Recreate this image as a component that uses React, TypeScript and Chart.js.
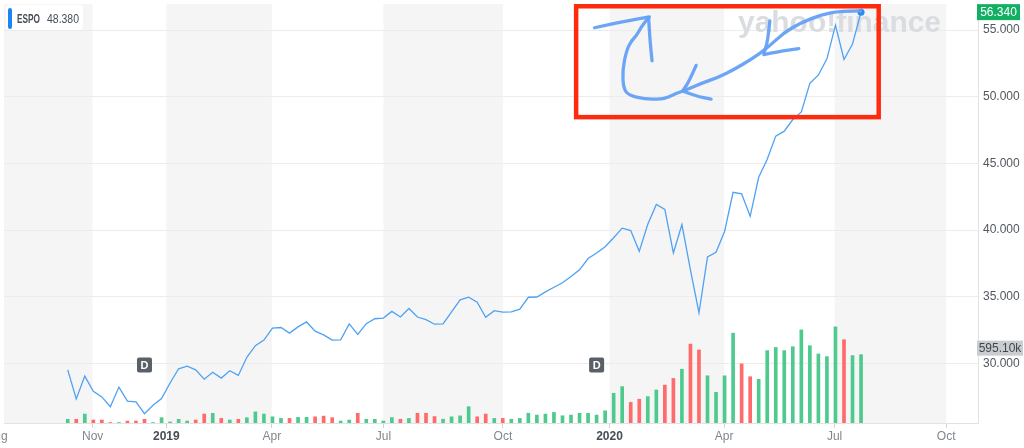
import React, { useEffect, useRef } from "react";
import { Chart, registerables } from "chart.js";

Chart.register(...registerables);

// ---------- data ----------
const weeks = [
  "2018-10-12","2018-10-19","2018-10-26","2018-11-02","2018-11-09","2018-11-16","2018-11-23","2018-11-30","2018-12-07","2018-12-14",
  "2018-12-21","2018-12-28","2019-01-04","2019-01-11","2019-01-18","2019-01-25","2019-02-01","2019-02-08","2019-02-15","2019-02-22",
  "2019-03-01","2019-03-08","2019-03-15","2019-03-22","2019-03-29","2019-04-05","2019-04-12","2019-04-19","2019-04-26","2019-05-03",
  "2019-05-10","2019-05-17","2019-05-24","2019-05-31","2019-06-07","2019-06-14","2019-06-21","2019-06-28","2019-07-05","2019-07-12",
  "2019-07-19","2019-07-26","2019-08-02","2019-08-09","2019-08-16","2019-08-23","2019-08-30","2019-09-06","2019-09-13","2019-09-20",
  "2019-09-27","2019-10-04","2019-10-11","2019-10-18","2019-10-25","2019-11-01","2019-11-08","2019-11-15","2019-11-22","2019-11-29",
  "2019-12-06","2019-12-13","2019-12-20","2019-12-27","2020-01-03","2020-01-10","2020-01-17","2020-01-24","2020-01-31","2020-02-07",
  "2020-02-14","2020-02-21","2020-02-28","2020-03-06","2020-03-13","2020-03-20","2020-03-27","2020-04-03","2020-04-10","2020-04-17",
  "2020-04-24","2020-05-01","2020-05-08","2020-05-15","2020-05-22","2020-05-29","2020-06-05","2020-06-12","2020-06-19","2020-06-26",
  "2020-07-03","2020-07-10","2020-07-17","2020-07-24",
];

const closes = [
  29.53, 27.35, 29.06, 27.92, 27.5, 26.76, 28.24, 27.18, 27.13, 26.24,
  26.88, 27.38, 28.54, 29.61, 29.8, 29.53, 28.83, 29.35, 28.91, 29.46,
  29.11, 30.47, 31.34, 31.76, 32.65, 32.7, 32.28, 32.75, 33.12, 32.43,
  32.15, 31.76, 31.78, 32.97, 32.18, 32.99, 33.36, 33.41, 33.91, 33.49,
  34.13, 33.49, 33.29, 32.95, 32.97, 33.88, 34.77, 34.97, 34.6, 33.47,
  33.96, 33.86, 33.88, 34.08, 34.97, 34.99, 35.37, 35.72, 36.06, 36.53,
  37.03, 37.87, 38.29, 38.76, 39.43, 40.15, 39.97, 38.41, 40.44, 41.93,
  41.56, 38.29, 40.42, 37.03, 33.81, 38.0, 38.34, 39.9, 42.84, 42.72,
  41.04, 43.96, 45.32, 47.05, 47.42, 48.29, 48.86, 51.01, 51.63, 52.84,
  55.37, 52.79, 53.95, 56.34,
];

// weekly volume, thousands of shares
const volumesK = [
  32, 32, 78, 26, 26, 4, 4, 17, 17, 32,
  4, 46, 9, 32, 17, 26, 78, 84, 40, 26,
  32, 46, 97, 78, 54, 40, 40, 49, 49, 54,
  60, 46, 17, 26, 84, 32, 32, 17, 47, 33,
  40, 85, 85, 56, 33, 54, 62, 142, 54, 78,
  40, 40, 33, 40, 85, 69, 78, 92, 63, 69,
  84, 84, 69, 106, 259, 317, 179, 207, 230, 287,
  330, 388, 468, 687, 636, 411, 267, 411, 782, 515,
  403, 380, 630, 658, 630, 664, 811, 673, 601, 578,
  837, 725, 587, 595.1,
];

const priceTicks = [30, 35, 40, 45, 50, 55];
// time-axis tick positions, in week-index units
const timeTickPos = [-8.29, 2.92, 11.56, 23.93, 37.01, 51.02, 63.51, 76.94, 89.9, 102.98];
const timeTickLabels = ["Aug", "Nov", "2019", "Apr", "Jul", "Oct", "2020", "Apr", "Jul", "Oct"];
const dividendDates = ["2018-12-14", "2019-12-20"];
const legendSymbol = "ESPO";
const legendValue = "48.380";

// hand-drawn annotation, in (week index, price) units
const annotationBox = [59.6, 56.78, 95.07, 48.47];
const annotationStrokes: number[][][] = [
  [
    [92.94, 56.43], [90.6, 56.43], [88.27, 56.13], [85.93, 55.54], [83.95, 54.8], [82.08, 53.68],
    [80.09, 52.79], [78.11, 52.04], [76.24, 51.45], [74.26, 51.0], [72.74, 50.56], [71.34, 50.26],
    [70.4, 49.97], [69.59, 49.82], [67.6, 49.82], [65.73, 50.12], [65.15, 50.64], [65.03, 51.97],
    [65.5, 53.46], [66.08, 54.2], [66.67, 54.57], [67.25, 55.24], [68.07, 55.91],
  ],
  [[61.76, 55.17], [64.92, 55.61], [68.18, 55.98]],
  [[68.1, 55.91], [68.22, 54.48], [68.5, 52.69]],
  [[73.67, 52.35], [72.85, 51.16], [72.15, 50.49]],
  [[72.15, 50.41], [73.67, 50.04], [75.42, 49.82]],
  [[82.31, 55.69], [82.08, 54.2], [81.61, 53.24]],
  [[81.61, 53.16], [83.25, 53.38], [85.7, 53.61]],
];

// ---------- styles ----------
const FONT = '"Liberation Sans", Arial, sans-serif';
const LINE_BLUE = "#4ea2f3";
const UP = "#4fca8e";
const DOWN = "#ff6b6b";

const barColors = closes.map((v, i) => (i === 0 || v >= closes[i - 1] ? UP : DOWN));

function roundRect(ctx: CanvasRenderingContext2D, x: number, y: number, w: number, h: number, r: number) {
  ctx.beginPath();
  ctx.moveTo(x + r, y);
  ctx.lineTo(x + w - r, y);
  ctx.quadraticCurveTo(x + w, y, x + w, y + r);
  ctx.lineTo(x + w, y + h - r);
  ctx.quadraticCurveTo(x + w, y + h, x + w - r, y + h);
  ctx.lineTo(x + r, y + h);
  ctx.quadraticCurveTo(x, y + h, x, y + h - r);
  ctx.lineTo(x, y + r);
  ctx.quadraticCurveTo(x, y, x + r, y);
  ctx.closePath();
}

const decorPlugin = {
  id: "decor",
  beforeDraw(chart: any) {
    const { ctx, chartArea: a, scales } = chart;
    ctx.save();
    ctx.fillStyle = "#ffffff";
    ctx.fillRect(0, 0, chart.width, chart.height);
    ctx.fillStyle = "#f5f5f5";
    for (let k = 0; k + 1 < timeTickPos.length; k += 2) {
      const x0 = Math.max(a.left, scales.x.getPixelForValue(timeTickPos[k]));
      const x1 = Math.min(a.right, scales.x.getPixelForValue(timeTickPos[k + 1]));
      if (x1 > x0) ctx.fillRect(x0, a.top, x1 - x0, a.bottom - a.top);
    }
    ctx.restore();
  },
  beforeDatasetsDraw(chart: any) {
    const { ctx } = chart;
    ctx.save();
    ctx.fillStyle = "#d9dce1";
    ctx.font = `bold 30px ${FONT}`;
    ctx.textBaseline = "alphabetic";
    ctx.fillText("yahoo!finance", 738, 32, 203);
    ctx.restore();
  },
  afterDatasetsDraw(chart: any) {
    const { ctx, scales } = chart;
    ctx.save();
    dividendDates.forEach((d) => {
      const idx = weeks.indexOf(d);
      const px = scales.x.getPixelForValue(idx);
      roundRect(ctx, px - 7.5, 357.5, 15, 15, 2);
      ctx.fillStyle = "#5a6067";
      ctx.fill();
      ctx.fillStyle = "#ffffff";
      ctx.font = `bold 11px ${FONT}`;
      ctx.textAlign = "center";
      ctx.textBaseline = "middle";
      ctx.fillText("D", px, 365.5);
    });
    ctx.restore();
  },
  afterDraw(chart: any) {
    const { ctx, scales } = chart;
    const xs = scales.x;
    const ys = scales.y;
    const vs = scales.vol;
    ctx.save();

    // legend chip
    roundRect(ctx, 6, 5, 77, 25, 4);
    ctx.fillStyle = "#ffffff";
    ctx.fill();
    roundRect(ctx, 8, 8, 4, 21, 2);
    ctx.fillStyle = "#1a86f5";
    ctx.fill();
    ctx.fillStyle = "#464e56";
    ctx.font = `bold 12px ${FONT}`;
    ctx.textBaseline = "middle";
    ctx.textAlign = "left";
    ctx.fillText(legendSymbol, 17, 20, 23);
    ctx.font = `12px ${FONT}`;
    ctx.fillText(legendValue, 47, 20, 32);

    // last price tag
    const last = closes[closes.length - 1];
    const py = ys.getPixelForValue(last);
    ctx.fillStyle = "#12b062";
    ctx.fillRect(977, py - 8, 43, 16);
    ctx.fillStyle = "#ffffff";
    ctx.font = `12px ${FONT}`;
    ctx.textAlign = "center";
    ctx.fillText(last.toFixed(3), 998.5, py + 0.5);

    // last volume tag
    const lv = volumesK[volumesK.length - 1];
    const vy = vs.getPixelForValue(lv) - 6.5;
    ctx.fillStyle = "#c9cdd2";
    ctx.fillRect(977, vy - 7.5, 46, 15);
    ctx.fillStyle = "#3e464e";
    ctx.fillText(lv.toFixed(2) + "k", 1000, vy + 0.5);

    // hand-drawn annotation
    const [bx0, by0, bx1, by1] = annotationBox;
    const rx0 = xs.getPixelForValue(bx0);
    const rx1 = xs.getPixelForValue(bx1);
    const ry0 = ys.getPixelForValue(by0);
    const ry1 = ys.getPixelForValue(by1);
    ctx.strokeStyle = "#ff2b0e";
    ctx.lineWidth = 4.5;
    ctx.strokeRect(rx0, ry0, rx1 - rx0, ry1 - ry0);

    ctx.strokeStyle = "rgba(100,160,246,0.95)";
    ctx.lineWidth = 3.3;
    ctx.lineCap = "round";
    ctx.lineJoin = "round";
    annotationStrokes.forEach((pts) => {
      const p = pts.map(([a, b]) => [xs.getPixelForValue(a), ys.getPixelForValue(b)]);
      ctx.beginPath();
      ctx.moveTo(p[0][0], p[0][1]);
      for (let k = 1; k < p.length - 1; k++) {
        const mx = (p[k][0] + p[k + 1][0]) / 2;
        const my = (p[k][1] + p[k + 1][1]) / 2;
        ctx.quadraticCurveTo(p[k][0], p[k][1], mx, my);
      }
      ctx.lineTo(p[p.length - 1][0], p[p.length - 1][1]);
      ctx.stroke();
    });

    ctx.restore();
  },
};

export default function App() {
  const ref = useRef<HTMLCanvasElement>(null);

  useEffect(() => {
    if (!ref.current) return;
    Chart.defaults.font.family = FONT;
    const chart = new Chart(ref.current, {
      type: "line",
      data: {
        datasets: [
          {
            type: "line",
            label: "ESPO",
            data: closes.map((v, i) => ({ x: i, y: v })),
            xAxisID: "x",
            yAxisID: "y",
            borderColor: LINE_BLUE,
            borderWidth: 1.3,
            tension: 0,
            pointRadius: (c: any) => (c.dataIndex === closes.length - 1 ? 3.5 : 0),
            pointBackgroundColor: "#2b8cf0",
            pointBorderWidth: 0,
            order: 0,
          } as any,
          {
            type: "bar",
            label: "Volume",
            data: volumesK.map((v, i) => ({ x: i, y: v })),
            xAxisID: "x",
            yAxisID: "vol",
            backgroundColor: barColors,
            barThickness: 3,
            order: 1,
          } as any,
        ],
      },
      options: {
        animation: false,
        responsive: false,
        maintainAspectRatio: false,
        events: [],
        layout: { padding: 0 },
        plugins: { legend: { display: false }, tooltip: { enabled: false } },
        scales: {
          x: {
            type: "linear",
            position: "bottom",
            offset: false,
            bounds: "data",
            min: -7.47,
            max: 106.71,
            afterBuildTicks: (s: any) => {
              s.ticks = timeTickPos.map((v) => ({ value: v }));
            },
            afterFit: (s: any) => {
              s.height = 25;
              s.paddingLeft = 0;
              s.paddingRight = 0;
            },
            ticks: {
              autoSkip: false,
              maxRotation: 0,
              minRotation: 0,
              padding: 1,
              callback: (_v: any, i: number) => timeTickLabels[i],
              color: (c: any) => (/^\d{4}$/.test(timeTickLabels[c.index] || "") ? "#464e56" : "#80878e"),
              font: (c: any) => ({
                family: FONT,
                size: 12,
                weight: /^\d{4}$/.test(timeTickLabels[c.index] || "") ? "bold" : "normal",
              }),
            },
            grid: { offset: false, drawOnChartArea: false, drawTicks: true, tickLength: 5, color: "#d3d3d3" },
            border: { color: "#e2e2e2" },
          } as any,
          y: {
            type: "linear",
            position: "right",
            min: 25.545,
            max: 56.95,
            afterBuildTicks: (s: any) => {
              s.ticks = priceTicks.map((v) => ({ value: v }));
            },
            afterFit: (s: any) => {
              s.width = 46;
              s.paddingTop = 0;
              s.paddingBottom = 0;
            },
            ticks: {
              padding: 5,
              callback: (v: any) => Number(v).toFixed(3),
              color: "#50575e",
              font: { family: FONT, size: 12 },
            },
            grid: { color: "#ececec", drawTicks: false },
            border: { color: "#e2e2e2" },
          } as any,
          vol: {
            type: "linear",
            display: false,
            min: 0,
            max: 3648,
          },
        },
      },
      plugins: [decorPlugin],
    } as any);
    return () => chart.destroy();
  }, []);

  return (
    <div style={{ position: "absolute", left: 0, top: 0, width: 1024, height: 448, background: "#fff" }}>
      <canvas ref={ref} width={1024} height={448} style={{ display: "block", width: 1024, height: 448 }} />
    </div>
  );
}
